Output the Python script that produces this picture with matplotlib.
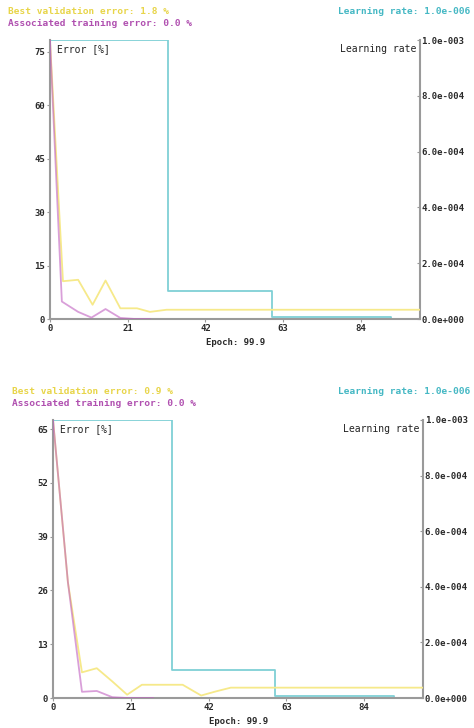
import matplotlib
matplotlib.use("Agg")
import matplotlib.pyplot as plt

# run 1 (top panel)
ep_val1 = [0, 3.5, 7.6, 11.5, 15, 19, 23.5, 27, 31.5, 100]
val1 = [78, 10.6, 11, 4, 10.8, 3, 3, 2, 2.6, 2.6]
ep_tr1 = [0, 3.2, 7.6, 11.2, 15, 19, 23, 27]
tr1 = [78, 4.9, 2, 0.4, 2.8, 0.3, 0, 0]

# run 2 (bottom panel)
ep_val2 = [0, 4, 7.8, 11.8, 16, 20, 24, 35, 40, 44, 48, 100]
val2 = [67, 28, 6.2, 7.2, 4, 0.8, 3.2, 3.2, 0.6, 1.6, 2.5, 2.5]
ep_tr2 = [0, 4, 7.8, 11.8, 16, 20, 27]
tr2 = [67, 28, 1.5, 1.7, 0.2, 0, 0]

# learning rate schedule (same for both)
lr_edges = [0, 32, 60, 92, 100]
lr_vals = [1e-3, 1e-4, 6e-6, 1e-6, 1e-6]

err_ticks1 = [0, 15, 30, 45, 60, 75]
err_ticks2 = [0, 13, 26, 39, 52, 65]
ep_ticks = [0, 21, 42, 63, 84]
lr_ticks = [0, 2e-4, 4e-4, 6e-4, 8e-4, 1e-3]

titles1 = ["Best validation error: 1.8 %", "Associated training error: 0.0 %", "Learning rate: 1.0e-006"]
titles2 = ["Best validation error: 0.9 %", "Associated training error: 0.0 %", "Learning rate: 1.0e-006"]

YEL = "#f6e98a"
PUR = "#c060c0"
CYA = "#7fd0d6"
SPN = "#9a9a9a"
FONT = "DejaVu Sans Mono"


def sci(v):
    m, e = f"{v:.1e}".split("e")
    return f"{m}e{int(e):+04d}"


def panel(ax, ep_v, v, ep_t, t, ymax, yticks):
    ax.plot(ep_v, v, color=YEL, lw=1.3, zorder=2)
    ax.plot(ep_t, t, color=PUR, lw=1.3, alpha=0.6, zorder=3)
    ax.set_xlim(0, 100)
    ax.set_ylim(0, ymax)
    ax.set_xticks(ep_ticks)
    ax.set_yticks(yticks)
    for s in ["left", "bottom"]:
        ax.spines[s].set_color(SPN)
        ax.spines[s].set_linewidth(1.5)
    for s in ["top", "right"]:
        ax.spines[s].set_visible(False)
    ax.tick_params(axis="both", length=2, width=0.8, color=SPN, pad=1.5,
                   labelsize=6.5)
    for lbl in ax.get_xticklabels() + ax.get_yticklabels():
        lbl.set_fontfamily(FONT)
        lbl.set_fontweight("bold")
        lbl.set_color("#2a2a2a")
    ax.set_xlabel("Epoch: 99.9", family=FONT, fontweight="bold", fontsize=6.5,
                  color="#2a2a2a", labelpad=4)
    ax.text(0.02, 0.985, "Error [%]", transform=ax.transAxes, family=FONT,
            fontsize=7, color="#222222", va="top", ha="left")

    ax2 = ax.twinx()
    ax2.step(lr_edges, lr_vals, where="post", color=CYA, lw=1.3, zorder=1)
    ax2.set_ylim(0, 1e-3)
    ax2.set_yticks(lr_ticks)
    ax2.set_yticklabels([sci(x) for x in lr_ticks])
    for s in ["left", "top", "bottom"]:
        ax2.spines[s].set_visible(False)
    ax2.spines["right"].set_color(SPN)
    ax2.spines["right"].set_linewidth(1.5)
    ax2.tick_params(axis="y", direction="in", length=2, width=0.8, color=SPN,
                    pad=1, labelsize=6.5)
    for lbl in ax2.get_yticklabels():
        lbl.set_fontfamily(FONT)
        lbl.set_fontweight("bold")
        lbl.set_color("#2a2a2a")
    ax2.text(0.99, 0.985, "Learning rate", transform=ax2.transAxes, family=FONT,
             fontsize=7, color="#222222", va="top", ha="right")
    ax.set_zorder(ax2.get_zorder() + 1)
    ax.patch.set_visible(False)


fig = plt.figure(figsize=(4.74, 7.28), dpi=100)

ax_top = fig.add_axes([0.1055, 0.5618, 0.781, 0.383])
panel(ax_top, ep_val1, val1, ep_tr1, tr1, 78.2, err_ticks1)
ax_bot = fig.add_axes([0.112, 0.0412, 0.781, 0.382])
panel(ax_bot, ep_val2, val2, ep_tr2, tr2, 67.2, err_ticks2)

for titles, y0, xl in [(titles1, 11, 8), (titles2, 392, 12)]:
    fig.text(xl / 474, 1 - y0 / 728, titles[0], family=FONT, fontweight="bold",
             fontsize=6.8, color="#e8d54a", va="center")
    fig.text(xl / 474, 1 - (y0 + 12) / 728, titles[1], family=FONT, fontweight="bold",
             fontsize=6.8, color="#b050b0", va="center")
    fig.text(338 / 474, 1 - y0 / 728, titles[2], family=FONT, fontweight="bold",
             fontsize=6.8, color="#45b8c4", va="center")

fig.savefig("out.png", dpi=100)
